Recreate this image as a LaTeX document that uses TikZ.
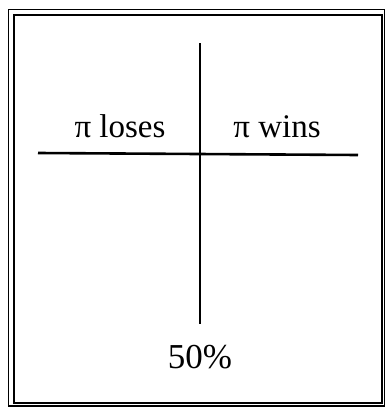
\documentclass[tikz,border=0pt]{standalone}
\usepackage{fontspec}
\setmainfont{Liberation Serif}
\begin{document}
\begin{tikzpicture}[x=1pt,y=-1pt,
  lbl/.style={anchor=base,inner sep=0pt,font=\fontsize{33}{36}\selectfont},
  axis/.style={line width=2.6pt}]
\useasboundingbox (0,0) rectangle (385,407);
\draw[line width=1.2pt] (8.5,9.5) rectangle (385,406);
\draw[line width=2pt] (14,15) rectangle (382,403);
\coordinate (vt) at (200,43);
\coordinate (vb) at (200,324);
\coordinate (hl) at (38,153);
\coordinate (hr) at (358,155);
\draw[axis] (vt) -- (vb);
\draw[axis] (hl) -- (hr);
\node[lbl] (lose) at (120,137) {π loses};
\node[lbl] (win) at (277,137) {π wins};
\node[lbl,font=\fontsize{35}{38}\selectfont] (half) at (200,368) {50\%};
\end{tikzpicture}
\end{document}
